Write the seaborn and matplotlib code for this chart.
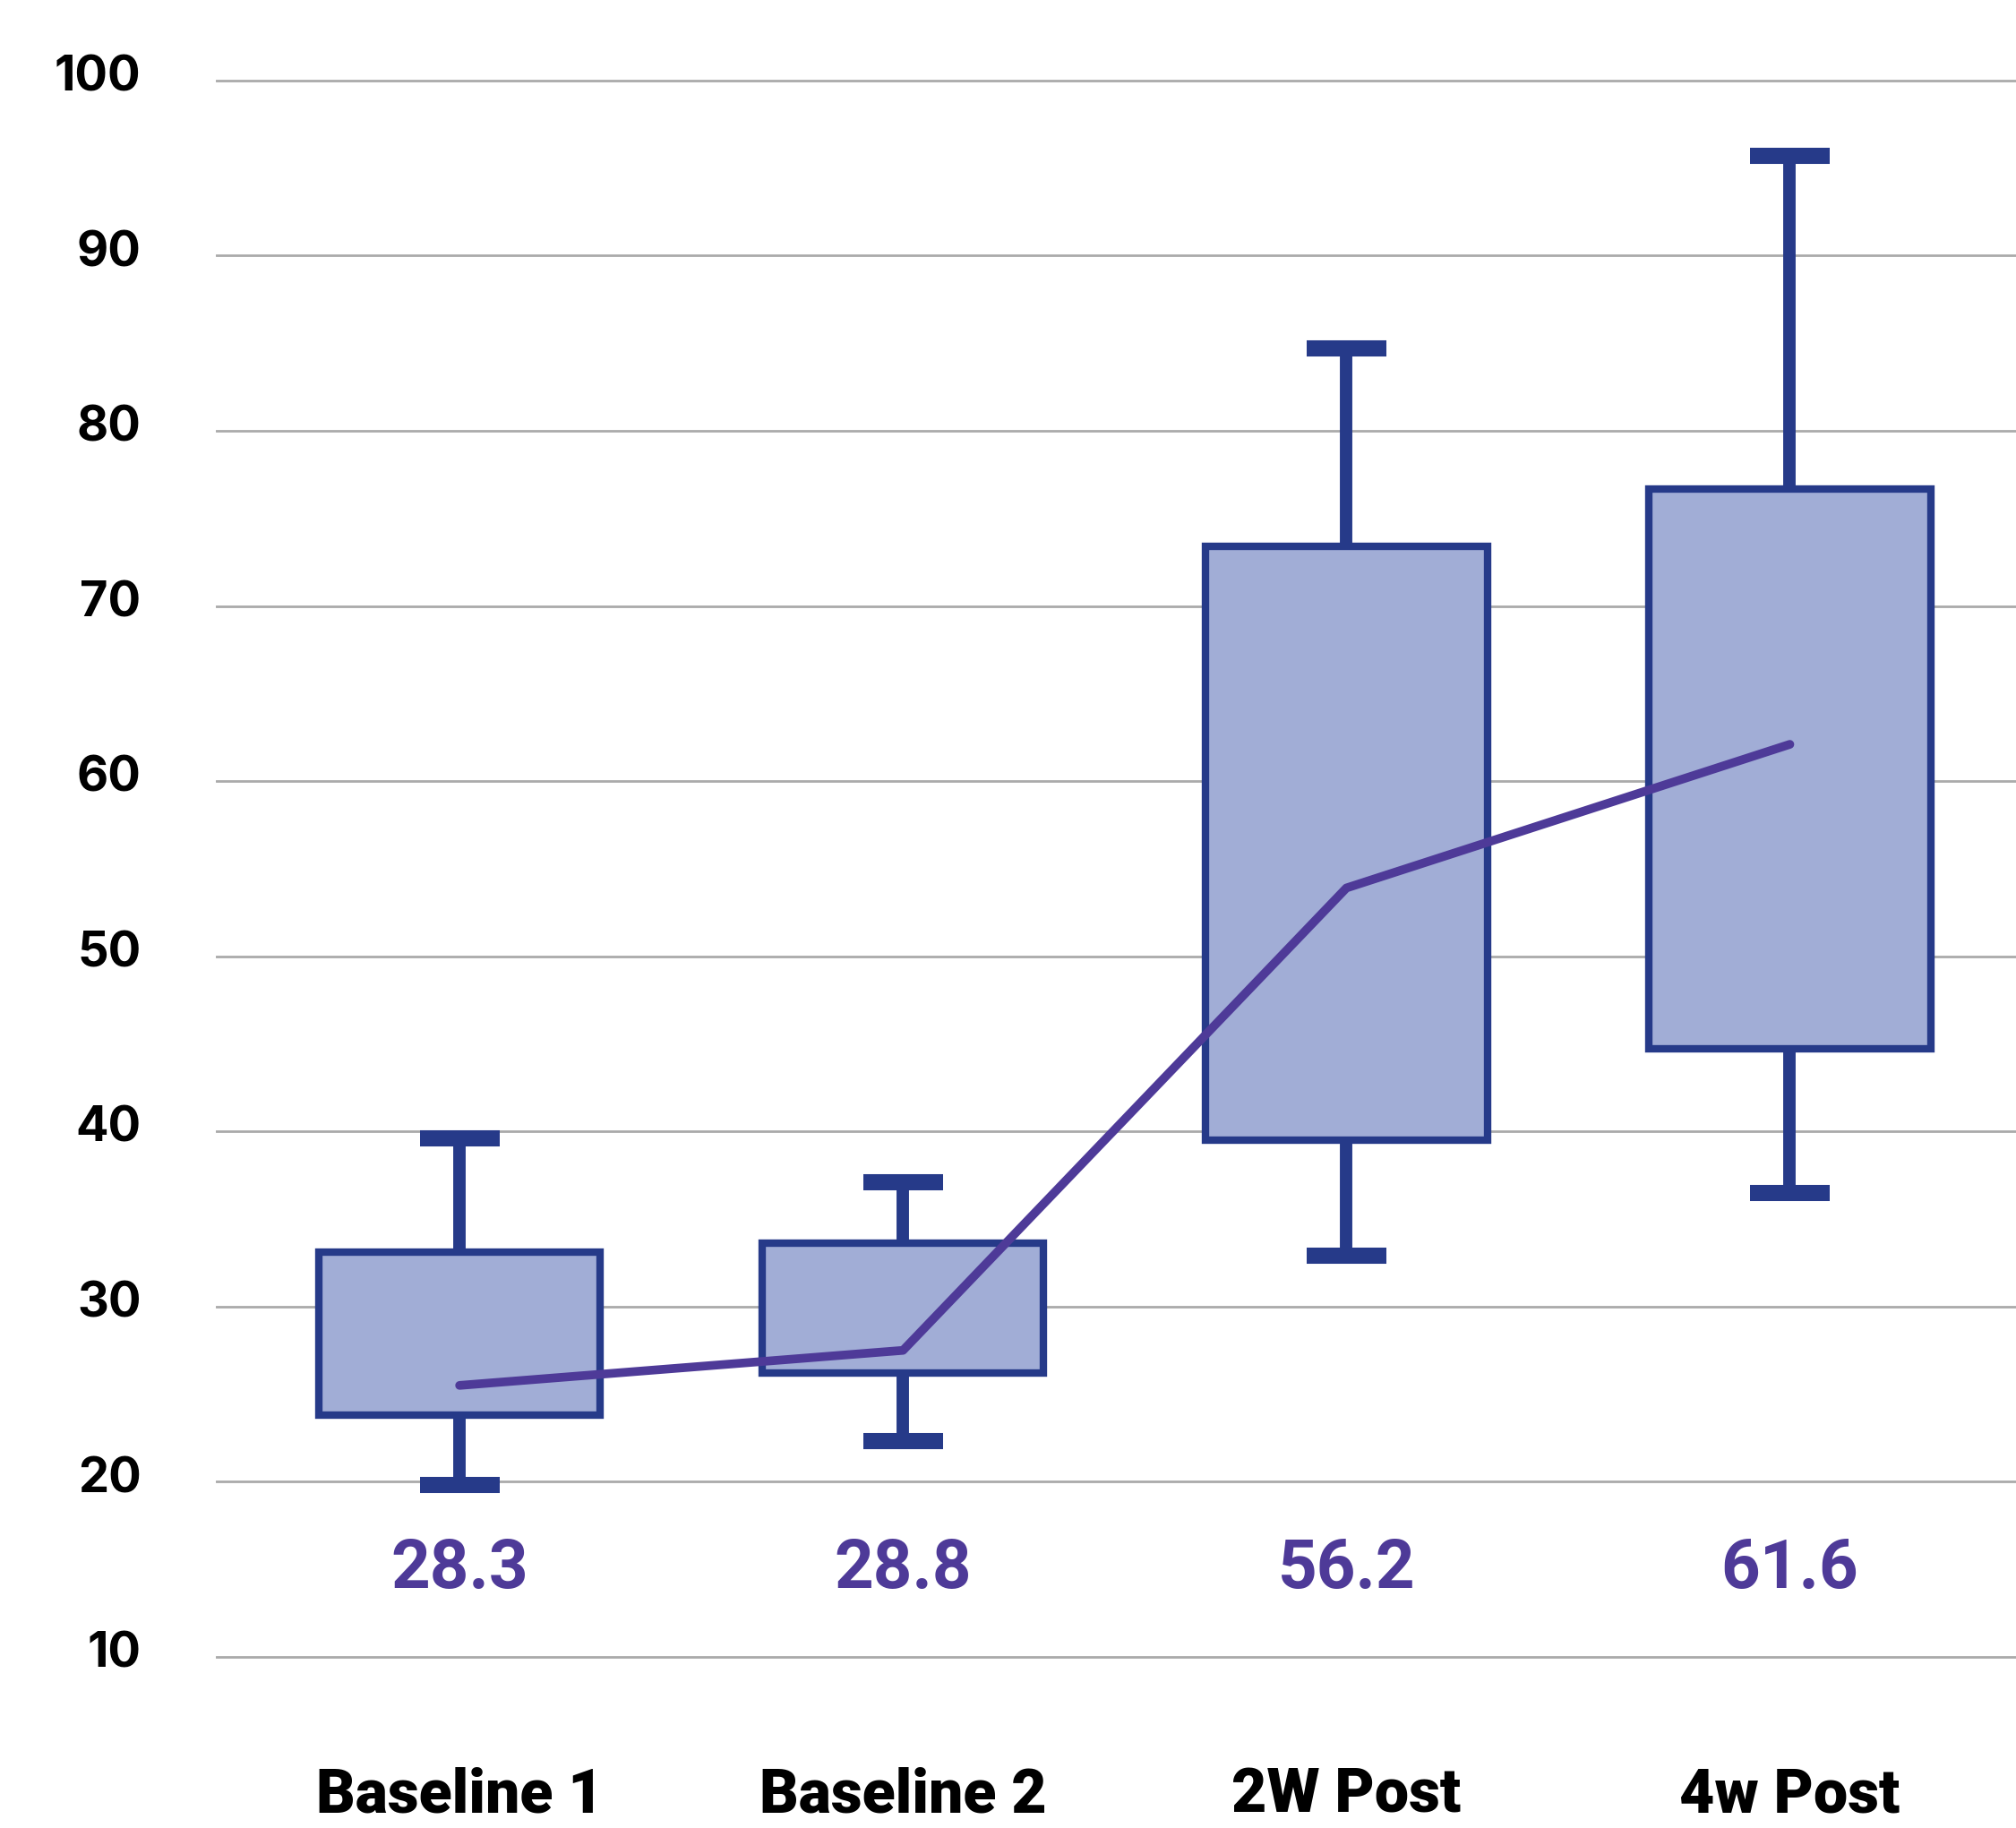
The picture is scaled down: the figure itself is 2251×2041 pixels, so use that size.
import numpy as np
import pandas as pd
import seaborn as sns
import matplotlib.pyplot as plt
import matplotlib.transforms as mtransforms

# =========================
# DADOS
# =========================

stages = ['Baseline 1', 'Baseline 2', '2W Post', '4w Post']
whisker_low = [19.8, 22.3, 32.9, 36.5]
box_low = [23.8, 26.2, 39.5, 44.7]
trend = [25.5, 27.5, 53.9, 62.1]
box_high = [33.1, 33.6, 73.4, 76.7]
whisker_high = [39.6, 37.1, 84.7, 95.7]
mean_labels = ['28.3', '28.8', '56.2', '61.6']
y_ticks = [10, 20, 30, 40, 50, 60, 70, 80, 90, 100]

# five points per stage -> quartiles land exactly on the box edges
rows = []
for i, st in enumerate(stages):
    for v in [whisker_low[i], box_low[i], trend[i], box_high[i], whisker_high[i]]:
        rows.append({'stage': st, 'score': v})
df = pd.DataFrame(rows)

box_fill = '#A1ADD6'
box_edge = '#263A89'
purple = '#4E3A98'
cap_lw = 13

# =========================
# FIGURA
# =========================

sns.set_style('white')
plt.rcParams['font.family'] = ['Roboto', 'DejaVu Sans']
plt.rcParams['text.color'] = 'black'
plt.rcParams['xtick.color'] = 'black'
plt.rcParams['ytick.color'] = 'black'

fig = plt.figure(figsize=(22.51, 20.41), dpi=100)
ax = fig.add_axes([0.107, 0.0457, 0.893, 0.939])

sns.boxplot(
    data=df, x='stage', y='score', order=stages, ax=ax,
    whis=(0, 100), width=0.635, color=box_fill, linecolor=box_edge,
    saturation=1, linewidth=6, showfliers=False,
    medianprops={'visible': False},
    whiskerprops={'linewidth': 10, 'solid_capstyle': 'butt'},
    capprops={'linewidth': cap_lw, 'solid_capstyle': 'butt'},
    boxprops={'linewidth': 6},
)

# narrow caps
for line in ax.lines:
    if line.get_linewidth() == cap_lw:
        xd = np.asarray(line.get_xdata(), dtype=float)
        c = xd.mean()
        line.set_xdata([c - 0.09, c + 0.09])

sns.lineplot(x=np.arange(len(stages)), y=trend, color=purple,
             linewidth=7, ax=ax, zorder=5)

for i, lab in enumerate(mean_labels):
    ax.text(i, 15, lab, ha='center', va='center', fontsize=55,
            fontweight='bold', color=purple)

ax.set_xlim(-0.55, 3.51)
ax.set_ylim(5, 103)
ax.set_yticks(y_ticks)
ax.set_yticklabels([str(t) for t in y_ticks], fontsize=39,
                   fontweight='bold', family=['Inter', 'DejaVu Sans'])
ax.set_xticks(range(len(stages)))
ax.set_xticklabels(stages, fontsize=49, fontweight='heavy')
ax.tick_params(axis='x', length=0, pad=18)
ax.tick_params(axis='y', length=0, pad=60)

# y labels sit a little above their grid lines
shift = mtransforms.ScaledTranslation(0, 6 / 72, fig.dpi_scale_trans)
for lbl in ax.get_yticklabels():
    lbl.set_transform(lbl.get_transform() + shift)

ax.set_axisbelow(True)
ax.yaxis.grid(True, color='#AAAAAA', linewidth=2)
ax.xaxis.grid(False)
for s in ax.spines.values():
    s.set_visible(False)
ax.set_xlabel('')
ax.set_ylabel('')

plt.savefig('out.png', dpi=100)
